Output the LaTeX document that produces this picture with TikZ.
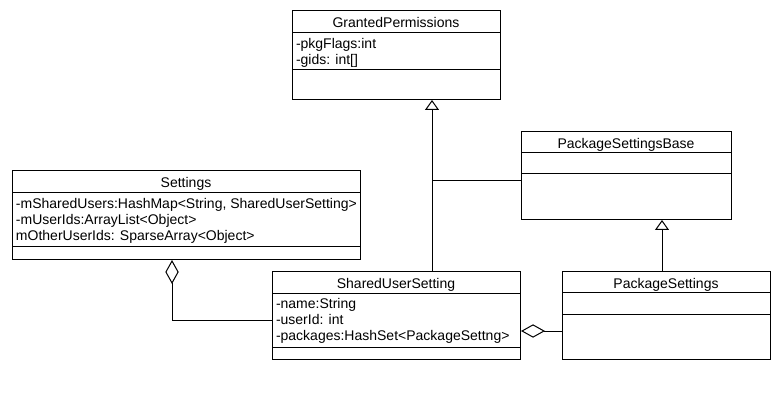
\documentclass[tikz,border=0pt]{standalone}
\usepackage{fontspec}
\setmainfont{Liberation Sans}
\usetikzlibrary{arrows.meta}

\begin{document}
\begin{tikzpicture}[x=0.75pt,y=-0.75pt,line width=0.75pt,
    cls/.style={draw,anchor=north west,inner sep=0pt},
    title/.style={anchor=base,font=\fontsize{10.5}{12}\selectfont},
    attr/.style={anchor=north west,inner sep=0pt,align=left,font=\fontsize{10.5}{12}\selectfont},
    inherit/.style={-{Triangle[open,length=7.5pt,width=10.5pt]}},
    aggr/.style={-{Diamond[open,length=18pt,width=10pt]}}]
\useasboundingbox (0,0) rectangle (780,402);
% classes
\node[cls,minimum width=156pt,minimum height=66.75pt] (gp) at (292,10) {};
\draw (gp.west |- 0,33) -- (gp.east |- 0,33);
\draw (gp.west |- 0,70) -- (gp.east |- 0,70);
\node[title] at (396,27.5) {GrantedPermissions};
\node[attr] at (295.5,38) {-pkgFlags:int\\-gids: int[]};

\node[cls,minimum width=261pt,minimum height=66.75pt] (settings) at (12,170) {};
\draw (settings.west |- 0,193) -- (settings.east |- 0,193);
\draw (settings.west |- 0,247) -- (settings.east |- 0,247);
\node[title] at (186,187.5) {Settings};
\node[attr] at (15.5,198) {-mSharedUsers:HashMap<String, SharedUserSetting>\\-mUserIds:ArrayList<Object>\\mOtherUserIds: SparseArray<Object>};

\node[cls,minimum width=186pt,minimum height=66pt] (sus) at (272,271) {};
\draw (sus.west |- 0,293) -- (sus.east |- 0,293);
\draw (sus.west |- 0,347) -- (sus.east |- 0,347);
\node[title] at (396,288.5) {SharedUserSetting};
\node[attr] at (275.5,298) {-name:String\\-userId: int\\-packages:HashSet<PackageSettng>};

\node[cls,minimum width=157.5pt,minimum height=66pt] (psb) at (521,131) {};
\draw (psb.west |- 0,153) -- (psb.east |- 0,153);
\draw (psb.west |- 0,174) -- (psb.east |- 0,174);
\node[title] at (626,148.5) {PackageSettingsBase};

\node[cls,minimum width=156pt,minimum height=66pt] (ps) at (562,271) {};
\draw (ps.west |- 0,292) -- (ps.east |- 0,292);
\draw (ps.west |- 0,314) -- (ps.east |- 0,314);
\node[title] at (666,288.5) {PackageSettings};

% connectors
\coordinate (trunk) at (432,181);
\draw[inherit] (sus.north -| trunk) -- (gp.south -| trunk);
\draw (psb.west |- trunk) -- (trunk);
\draw[inherit] (ps.north -| 662,0) -- (psb.south -| 662,0);
\draw[aggr] (sus.west |- 0,320) -| (settings.south -| 172,0);
\draw[aggr] (ps.west |- 0,331) -- (sus.east |- 0,331);
\end{tikzpicture}
\end{document}
